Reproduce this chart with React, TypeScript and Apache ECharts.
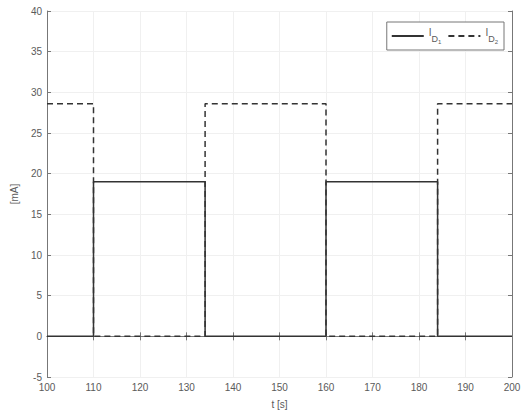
import React, { useEffect, useRef } from "react";
import * as echarts from "echarts";

const times = [100, 110, 134, 160, 184, 200];
const id1 = [0, 19, 0, 19, 0, 0];
const id2 = [28.6, 0, 28.6, 0, 28.6, 28.6];

const FONT = "Liberation Sans";
const TXT = "#5a5a5a";
const AX = "#777";

export default function App() {
  const ref = useRef<HTMLDivElement>(null);
  useEffect(() => {
    if (!ref.current) return;
    const chart = echarts.init(ref.current, undefined, { renderer: "svg" });
    const baseAxis = {
      axisLine: { show: true, lineStyle: { color: AX, width: 1 } },
      axisTick: { show: true, inside: true, length: 4, lineStyle: { color: AX } },
      splitLine: { show: false },
    };
    const leg = (n: string) => `{i|I}{d|D}{s|${n}}`;
    chart.setOption({
      animation: false,
      backgroundColor: "#fff",
      textStyle: { fontFamily: FONT },
      grid: { left: 47, right: 12, top: 11, bottom: 37, containLabel: false },
      legend: {
        top: 22,
        right: 20,
        orient: "horizontal",
        itemWidth: 32,
        itemHeight: 10,
        itemGap: 6,
        padding: [5, 6, 5, 4],
        borderColor: AX,
        borderWidth: 1,
        backgroundColor: "#fff",
        itemStyle: { opacity: 0 },
        data: ["1", "2"],
        formatter: (n: string) => leg(n),
        textStyle: {
          color: TXT,
          fontFamily: FONT,
          rich: {
            i: { fontSize: 10, color: TXT, verticalAlign: "top", lineHeight: 18, fontFamily: FONT },
            d: { fontSize: 9, color: TXT, verticalAlign: "middle", lineHeight: 18, padding: [6, 0, 0, 0], fontFamily: FONT },
            s: { fontSize: 6, color: TXT, verticalAlign: "bottom", lineHeight: 18, padding: [10, 0, 0, 0], fontFamily: FONT },
          },
        },
      },
      xAxis: [
        {
          ...baseAxis,
          type: "value",
          min: 100,
          max: 200,
          interval: 10,
          name: "t [s]",
          nameLocation: "middle",
          nameGap: 22,
          nameTextStyle: { color: TXT, fontSize: 10, fontFamily: FONT },
          axisLabel: { color: TXT, fontSize: 10, margin: 5, fontFamily: FONT },
          splitLine: { show: true, lineStyle: { color: "#f0f0f0", width: 1 } },
        },
        {
          ...baseAxis,
          type: "value",
          position: "top",
          min: 100,
          max: 200,
          interval: 10,
          axisLabel: { show: false },
        },
      ],
      yAxis: [
        {
          ...baseAxis,
          type: "value",
          min: -5,
          max: 40,
          interval: 5,
          name: "[mA]",
          nameLocation: "middle",
          nameGap: 20,
          nameTextStyle: { color: TXT, fontSize: 10, fontFamily: FONT },
          axisLabel: { color: TXT, fontSize: 10, margin: 5, fontFamily: FONT },
          splitLine: { show: true, lineStyle: { color: "#f0f0f0", width: 1 } },
        },
        {
          ...baseAxis,
          type: "value",
          position: "right",
          min: -5,
          max: 40,
          interval: 5,
          axisLabel: { show: false },
        },
      ],
      series: [
        {
          name: "1",
          type: "line",
          step: "end",
          symbol: "none",
          data: times.map((t, i) => [t, id1[i]]),
          lineStyle: { color: "#333", width: 1.5, type: "solid" },
          itemStyle: { color: "#333" },
          z: 3,
        },
        {
          name: "2",
          type: "line",
          step: "end",
          symbol: "none",
          data: times.map((t, i) => [t, id2[i]]),
          lineStyle: { color: "#333", width: 1.5, type: [6, 4] },
          itemStyle: { color: "#333" },
          z: 2,
        },
      ],
    });
    return () => chart.dispose();
  }, []);
  return (
    <div
      ref={ref}
      style={{ position: "absolute", left: 0, top: 0, width: 524, height: 414 }}
    />
  );
}
